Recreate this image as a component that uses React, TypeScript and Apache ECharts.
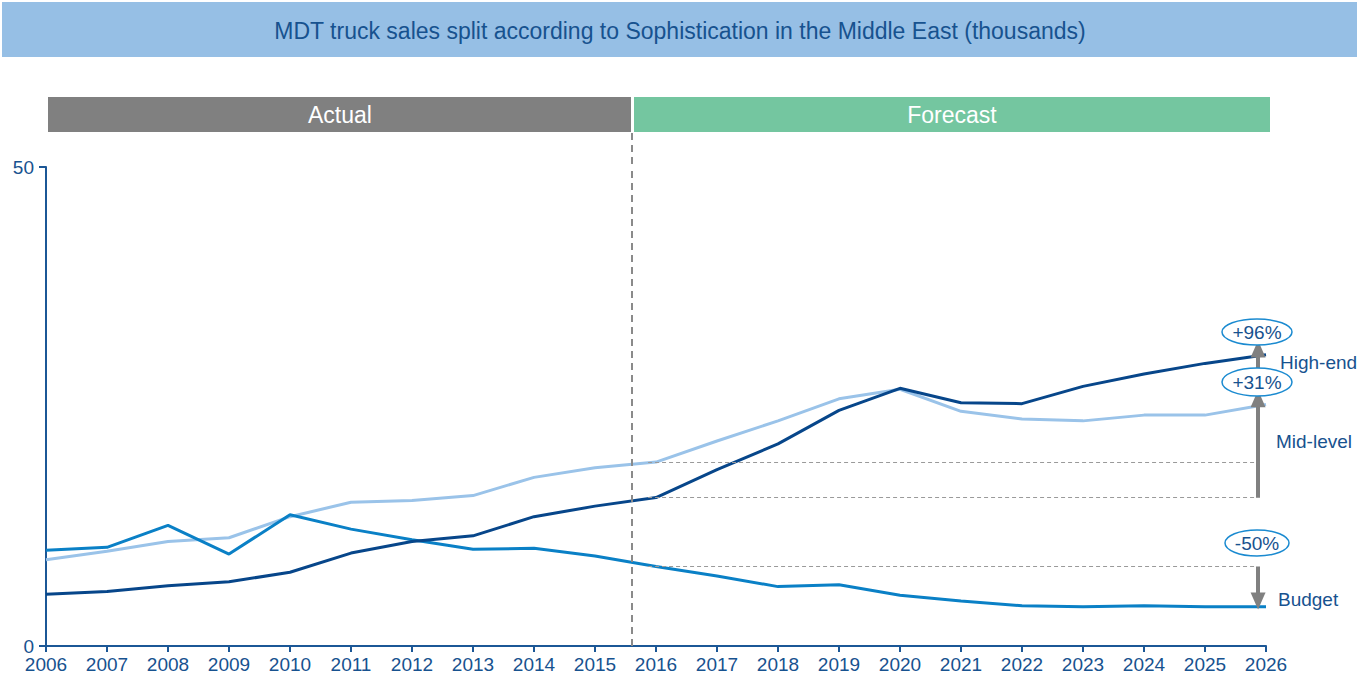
import React, { useEffect, useRef } from "react";
import * as echarts from "echarts";

const years = [2006, 2007, 2008, 2009, 2010, 2011, 2012, 2013, 2014, 2015, 2016, 2017, 2018, 2019, 2020, 2021, 2022, 2023, 2024, 2025, 2026];
const highEnd = [5.4, 5.7, 6.3, 6.7, 7.7, 9.7, 10.9, 11.5, 13.5, 14.6, 15.5, 18.4, 21.1, 24.6, 26.9, 25.4, 25.3, 27.1, 28.4, 29.5, 30.4];
const midLevel = [9.0, 9.9, 10.9, 11.3, 13.5, 15.0, 15.2, 15.7, 17.6, 18.6, 19.2, 21.4, 23.5, 25.8, 26.8, 24.5, 23.7, 23.5, 24.1, 24.1, 25.2];
const budget = [10.0, 10.3, 12.6, 9.6, 13.7, 12.2, 11.1, 10.1, 10.2, 9.4, 8.3, 7.3, 6.2, 6.4, 5.3, 4.7, 4.2, 4.1, 4.2, 4.1, 4.1];
const seriesNames = ["High-end", "Mid-level", "Budget"];
const growthLabels = ["+96%", "+31%", "-50%"];
const yTicks = [0, 50];
const splitYear = 2015.6;
const baseIdx = 10; // 2016
const lastIdx = 20; // 2026

const C_HIGH = "#07468a";
const C_MID = "#9ac3e9";
const C_BUD = "#0a80c6";
const TXT = "#17528f";
const FONT = "Liberation Sans, Arial, sans-serif";

export default function App() {
  const ref = useRef<HTMLDivElement>(null);
  useEffect(() => {
    if (!ref.current) return;
    const chart = echarts.init(ref.current, null, { renderer: "svg" });
    const arrowX = 2025.87;
    const dashEnd = 2025.82;
    const dashStart = 2015.87;
    const dashStyle = { color: "#9a9a9a", type: [4, 3] as any, width: 1 };
    const arrowStyle = { color: "#808080", type: "solid" as any, width: 4 };
    const mk = (vals: number[]) => vals.map((v, i) => [years[i], v]);
    const base = (arr: number[]) => arr[baseIdx];
    const last = (arr: number[]) => arr[lastIdx];

    const option: any = {
      animation: false,
      textStyle: { fontFamily: FONT },
      grid: { left: 46, right: 92, top: 167, bottom: 36, containLabel: false },
      xAxis: {
        type: "value",
        min: 2006,
        max: 2026,
        interval: 1,
        axisLine: { lineStyle: { color: "#1b5796", width: 2 } },
        axisTick: { show: true, length: 6, lineStyle: { color: "#1b5796", width: 2 } },
        axisLabel: { color: TXT, fontSize: 19, margin: 9, fontFamily: FONT, formatter: (v: number) => String(v) },
        splitLine: { show: false },
      },
      yAxis: {
        type: "value",
        min: yTicks[0],
        max: yTicks[1],
        interval: 50,
        axisLine: { show: true, lineStyle: { color: "#1b5796", width: 2 } },
        axisTick: { show: true, length: 7, lineStyle: { color: "#1b5796", width: 2 } },
        axisLabel: { color: TXT, fontSize: 19, margin: 12, fontFamily: FONT },
        splitLine: { show: false },
      },
      series: [
        {
          name: seriesNames[1],
          type: "line",
          data: mk(midLevel),
          symbol: "none",
          lineStyle: { color: C_MID, width: 3 },
          z: 2,
          markLine: {
            silent: true,
            symbol: ["none", "none"],
            label: { show: false },
            data: [
              [{ coord: [dashStart, base(midLevel)], lineStyle: dashStyle }, { coord: [dashEnd, base(midLevel)] }],
            ],
          },
        },
        {
          name: seriesNames[2],
          type: "line",
          data: mk(budget),
          symbol: "none",
          lineStyle: { color: C_BUD, width: 3 },
          z: 3,
          markLine: {
            silent: true,
            symbol: ["none", "none"],
            label: { show: false },
            data: [
              [{ coord: [dashStart, base(budget)], lineStyle: dashStyle }, { coord: [dashEnd, base(budget)] }],
            ],
          },
        },
        {
          name: seriesNames[0],
          type: "line",
          data: mk(highEnd),
          symbol: "none",
          lineStyle: { color: C_HIGH, width: 3 },
          z: 4,
          markLine: {
            silent: true,
            symbol: ["none", "none"],
            label: { show: false },
            data: [
              [{ coord: [dashStart, base(highEnd)], lineStyle: dashStyle }, { coord: [dashEnd, base(highEnd)] }],
              { xAxis: splitYear, lineStyle: { color: "#8a8a8a", type: [7, 5], width: 2 } },
            ],
          },
        },
        {
          name: "arrows",
          type: "line",
          data: [],
          z: 6,
          markLine: {
            silent: true,
            symbol: ["none", "triangle"],
            symbolSize: [15, 17],
            label: { show: false },
            data: [
              [{ coord: [arrowX, base(highEnd)], lineStyle: arrowStyle }, { coord: [arrowX, last(highEnd) + 0.6] }],
              [{ coord: [arrowX, base(highEnd)], lineStyle: arrowStyle }, { coord: [arrowX, last(midLevel) + 0.6] }],
              [{ coord: [arrowX, base(budget)], lineStyle: arrowStyle }, { coord: [arrowX, last(budget) + 0.6] }],
            ],
          },
        },
      ],
      graphic: [
        { type: "rect", shape: { x: 2, y: 2, width: 1355, height: 55 }, style: { fill: "#96bfe5" }, z: 1 },
        { type: "text", x: 680, y: 31, z: 2, style: { text: "MDT truck sales split according to Sophistication in the Middle East (thousands)", fill: TXT, font: `23px ${FONT}`, textAlign: "center", textVerticalAlign: "middle" } },
        { type: "rect", shape: { x: 48, y: 97, width: 583, height: 35 }, style: { fill: "#808080" } },
        { type: "rect", shape: { x: 634, y: 97, width: 636, height: 35 }, style: { fill: "#74c6a0" } },
        { type: "line", shape: { x1: 632, y1: 133, x2: 632, y2: 167 }, style: { stroke: "#8a8a8a", lineWidth: 2, lineDash: [7, 5] } },
        { type: "text", x: 340, y: 115, style: { text: "Actual", fill: "#ffffff", font: `23px ${FONT}`, textAlign: "center", textVerticalAlign: "middle" } },
        { type: "text", x: 952, y: 115, style: { text: "Forecast", fill: "#ffffff", font: `23px ${FONT}`, textAlign: "center", textVerticalAlign: "middle" } },
        { type: "ellipse", shape: { cx: 1257, cy: 332, rx: 35, ry: 13 }, style: { fill: "#ffffff", stroke: "#1a8ad0", lineWidth: 1.5 }, z: 10 },
        { type: "text", x: 1257, y: 332, z: 11, style: { text: growthLabels[0], fill: TXT, font: `19px ${FONT}`, textAlign: "center", textVerticalAlign: "middle" } },
        { type: "ellipse", shape: { cx: 1257, cy: 382, rx: 35, ry: 14 }, style: { fill: "#ffffff", stroke: "#1a8ad0", lineWidth: 1.5 }, z: 10 },
        { type: "text", x: 1257, y: 382, z: 11, style: { text: growthLabels[1], fill: TXT, font: `19px ${FONT}`, textAlign: "center", textVerticalAlign: "middle" } },
        { type: "ellipse", shape: { cx: 1257, cy: 543, rx: 32, ry: 13 }, style: { fill: "#ffffff", stroke: "#1a8ad0", lineWidth: 1.5 }, z: 10 },
        { type: "text", x: 1257, y: 543, z: 11, style: { text: growthLabels[2], fill: TXT, font: `19px ${FONT}`, textAlign: "center", textVerticalAlign: "middle" } },
        { type: "text", x: 1280, y: 362, style: { text: seriesNames[0], fill: TXT, font: `19px ${FONT}`, textAlign: "left", textVerticalAlign: "middle" } },
        { type: "text", x: 1276, y: 441, style: { text: seriesNames[1], fill: TXT, font: `19px ${FONT}`, textAlign: "left", textVerticalAlign: "middle" } },
        { type: "text", x: 1278, y: 599, style: { text: seriesNames[2], fill: TXT, font: `19px ${FONT}`, textAlign: "left", textVerticalAlign: "middle" } },
      ],
    };
    chart.setOption(option);
    return () => chart.dispose();
  }, []);
  return (
    <div
      ref={ref}
      style={{ position: "fixed", left: 0, top: 0, width: 1358, height: 682, background: "#ffffff" }}
    />
  );
}
